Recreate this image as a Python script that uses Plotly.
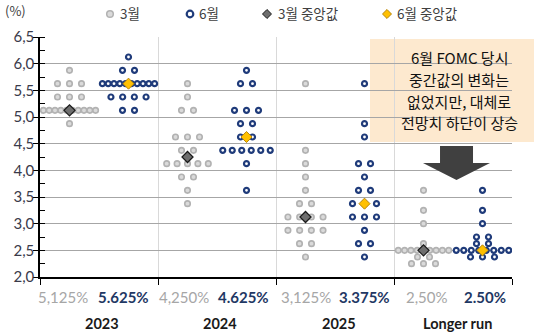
import plotly.graph_objects as go

# Projection horizons
years = ["2023", "2024", "2025", "Longer run"]

# March projections (policy rate midpoint -> number of participants)
mar_rates = [
    [5.875, 5.625, 5.375, 5.125, 4.875],
    [5.625, 5.375, 5.125, 4.625, 4.375, 4.125, 3.875, 3.625, 3.375],
    [5.625, 4.375, 4.125, 3.875, 3.625, 3.375, 3.125, 2.875, 2.625, 2.375],
    [3.625, 3.25, 3.0, 2.625, 2.5, 2.375, 2.25],
]
mar_counts = [
    [1, 3, 3, 10, 1],
    [1, 1, 2, 3, 2, 5, 2, 1, 1],
    [1, 1, 1, 1, 1, 2, 4, 4, 2, 1],
    [1, 1, 1, 1, 9, 2, 3],
]

# June projections
jun_rates = [
    [6.125, 5.875, 5.625, 5.375, 5.125],
    [5.875, 5.625, 5.125, 4.875, 4.625, 4.375, 4.125, 3.625],
    [5.625, 4.875, 4.625, 4.125, 3.875, 3.625, 3.375, 3.125, 2.875, 2.625, 2.375],
    [3.625, 3.25, 3.0, 2.75, 2.625, 2.5, 2.375],
]
jun_counts = [
    [1, 2, 10, 4, 2],
    [1, 2, 3, 2, 2, 6, 1, 1],
    [1, 1, 1, 2, 1, 2, 3, 3, 1, 2, 1],
    [1, 1, 1, 2, 2, 8, 3],
]

# Medians and their printed labels
mar_median = [5.125, 4.25, 3.125, 2.5]
jun_median = [5.625, 4.625, 3.375, 2.5]
mar_median_text = ["5,125%", "4,250%", "3,125%", "2,50%"]
jun_median_text = ["5.625%", "4.625%", "3.375%", "2.50%"]

y_ticks = [2.0, 2.5, 3.0, 3.5, 4.0, 4.5, 5.0, 5.5, 6.0, 6.5]

# ---- geometry helpers -------------------------------------------------
W, H = 536, 336
PLOT_L, PLOT_R, PLOT_T, PLOT_B = 40, 512, 37, 277
PX_PER_X = (PLOT_R - PLOT_L) / 4.0


def px_x(px):
    return (px - PLOT_L) / (PLOT_R - PLOT_L)


def px_y(py):
    return (PLOT_B - py) / (PLOT_B - PLOT_T)


# horizontal gap between neighbouring dots of one row, by row size (px)
ROW_GAP = {1: 0, 2: 12, 3: 12, 4: 11.7, 5: 10.4, 6: 9.5, 7: 8.5, 8: 7.5, 9: 6.3, 10: 5.8}


def spread(center, rates, counts):
    xs, ys = [], []
    for r, n in zip(rates, counts):
        gap = ROW_GAP.get(n, 5.5) / PX_PER_X
        for k in range(n):
            xs.append(center + (k - (n - 1) / 2) * gap)
            ys.append(r)
    return xs, ys


GRAY_FILL, GRAY_LINE = "#DADADA", "#B2B2B2"
NAVY = "#1F3B7A"
MAR_DIA, MAR_DIA_LINE = "#6E6E6E", "#1A1A1A"
JUN_DIA, JUN_DIA_LINE = "#FFC000", "#B8860B"

fig = go.Figure()

mx, my, jx, jy = [], [], [], []
for i in range(len(years)):
    a, b = spread(i + 0.25, mar_rates[i], mar_counts[i])
    mx += a
    my += b
    a, b = spread(i + 0.75, jun_rates[i], jun_counts[i])
    jx += a
    jy += b

fig.add_trace(go.Scatter(
    x=mx, y=my, mode="markers", name="3월",
    marker=dict(size=5.5, color=GRAY_FILL, line=dict(color=GRAY_LINE, width=1.6)),
))
fig.add_trace(go.Scatter(
    x=jx, y=jy, mode="markers", name="6월",
    marker=dict(size=5, color="white", line=dict(color=NAVY, width=2.2)),
))
fig.add_trace(go.Scatter(
    x=[i + 0.25 for i in range(len(years))], y=mar_median, mode="markers",
    name="3월 중앙값",
    marker=dict(symbol="diamond", size=8.5, color=MAR_DIA,
                line=dict(color=MAR_DIA_LINE, width=1.2)),
))
fig.add_trace(go.Scatter(
    x=[i + 0.75 for i in range(len(years))], y=jun_median, mode="markers",
    name="6월 중앙값",
    marker=dict(symbol="diamond", size=8.5, color=JUN_DIA,
                line=dict(color=JUN_DIA_LINE, width=1)),
))

annotations = []
shapes = [
    # call-out box background
    dict(type="rect", xref="paper", yref="paper", layer="below",
         x0=px_x(370), x1=px_x(534), y0=px_y(142), y1=px_y(39),
         fillcolor="#FDE9CF", line=dict(width=0)),
]

# ---- legend row ---------------------------------------------------------
LEG_Y = 14


def legend_circle(cx, fill, edge, lw):
    r = 3.3
    return dict(type="circle", xref="paper", yref="paper",
                x0=px_x(cx - r), x1=px_x(cx + r), y0=px_y(LEG_Y + r), y1=px_y(LEG_Y - r),
                fillcolor=fill, line=dict(color=edge, width=lw))


def legend_diamond(cx, fill, edge):
    r = 4.5
    pts = [(cx, LEG_Y - r), (cx + r, LEG_Y), (cx, LEG_Y + r), (cx - r, LEG_Y)]
    p = "M " + " L ".join("%.4f,%.4f" % (px_x(a), px_y(b)) for a, b in pts) + " Z"
    return dict(type="path", xref="paper", yref="paper", path=p,
                fillcolor=fill, line=dict(color=edge, width=1))


shapes += [
    legend_circle(110, GRAY_FILL, GRAY_LINE, 1.5),
    legend_circle(190, "white", NAVY, 2.2),
    legend_diamond(267, MAR_DIA, MAR_DIA_LINE),
    legend_diamond(387, JUN_DIA, JUN_DIA_LINE),
]
for txt, tx in [("3월", 118), ("6월", 197), ("3월 중앙값", 276), ("6월 중앙값", 395)]:
    annotations.append(dict(
        x=px_x(tx), y=px_y(13), xref="paper", yref="paper", text=txt,
        showarrow=False, xanchor="left", yanchor="middle",
        font=dict(family="Noto Sans CJK KR", size=13.5, color="#404040"),
    ))

annotations.append(dict(
    x=px_x(3), y=px_y(11), xref="paper", yref="paper", text="(%)",
    showarrow=False, xanchor="left", yanchor="middle",
    font=dict(family="Noto Sans CJK KR", size=13, color="#404040"),
))

# median values printed under each group, then the horizon names
for i in range(len(years)):
    annotations.append(dict(
        x=px_x(63 + 121.3 * i), y=px_y(297), xref="paper", yref="paper",
        text=mar_median_text[i], showarrow=False, xanchor="center", yanchor="middle",
        font=dict(family="Lato", size=15, color="#A6A6A6"),
    ))
    annotations.append(dict(
        x=px_x(123 + 120.8 * i), y=px_y(297), xref="paper", yref="paper",
        text="<b>%s</b>" % jun_median_text[i], showarrow=False,
        xanchor="center", yanchor="middle",
        font=dict(family="Lato", size=15, color="#1F3864"),
    ))
    annotations.append(dict(
        x=px_x(101.5 + 118.8 * i), y=px_y(323.5), xref="paper", yref="paper",
        text="<b>%s</b>" % years[i], showarrow=False,
        xanchor="center", yanchor="middle",
        font=dict(family="Lato", size=14.5, color="#1A1A1A"),
    ))

# call-out text, one annotation per line
callout = ["6월 FOMC 당시", "중간값의 변화는", "없었지만, 대체로", "전망치 하단이 상승"]
for k, line in enumerate(callout):
    annotations.append(dict(
        x=px_x(459), y=px_y(57.5 + 21.8 * k), xref="paper", yref="paper",
        text=line, showarrow=False, xanchor="center", yanchor="middle",
        font=dict(family="Noto Sans CJK KR", size=15, color="#111111"),
    ))

# downward arrow
arrow_pts = [(440, 146), (473, 146), (473, 163), (490, 163), (456.5, 180),
             (423, 163), (440, 163)]
path = "M " + " L ".join("%.4f,%.4f" % (px_x(a), px_y(b)) for a, b in arrow_pts) + " Z"
shapes.append(dict(type="path", xref="paper", yref="paper", path=path,
                   fillcolor="#404040", line=dict(width=0)))

fig.update_layout(
    width=W, height=H,
    margin=dict(l=PLOT_L, r=W - PLOT_R, t=PLOT_T, b=H - PLOT_B),
    paper_bgcolor="white", plot_bgcolor="rgba(0,0,0,0)",
    separators=", ",
    showlegend=False,
    annotations=annotations,
    shapes=shapes,
    xaxis=dict(
        range=[0, 4], tickvals=[0, 1, 2, 3, 4], showticklabels=False,
        ticks="outside", ticklen=6, tickcolor="black", tickwidth=1.3,
        showline=True, linecolor="black", linewidth=1.5,
        showgrid=True, gridcolor="#D9D9D9", gridwidth=1,
        zeroline=False, fixedrange=True,
    ),
    yaxis=dict(
        range=[2, 6.5], tickvals=y_ticks, tickformat=".1f",
        ticks="outside", ticklen=5, tickcolor="black", tickwidth=1.3,
        showline=True, linecolor="black", linewidth=1.5,
        showgrid=True, gridcolor="#A6A6A6", gridwidth=1.3,
        zeroline=False, fixedrange=True, ticklabelstandoff=-4,
        tickfont=dict(family="Lato", size=15, color="#3A3A4A"),
        minor=dict(ticks="inside", ticklen=5, tickcolor="black", tickwidth=1.2,
                   dtick=0.25, tick0=2, showgrid=False),
    ),
)

fig.write_html("out.html")
